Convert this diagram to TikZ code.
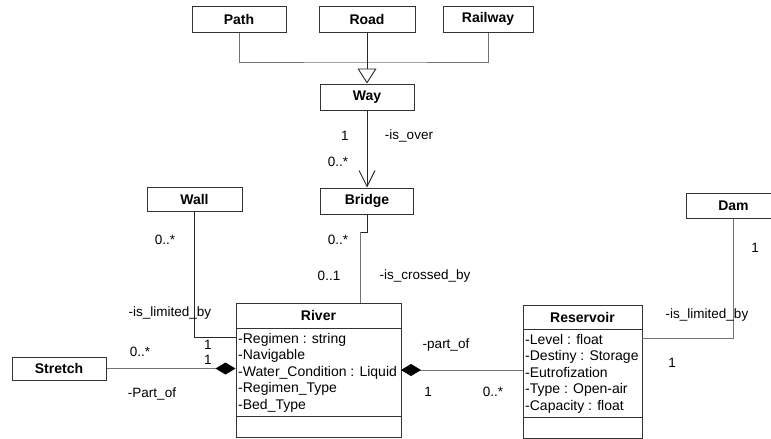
\documentclass[tikz,border=0pt]{standalone}
\usepackage{fontspec}
\setmainfont{Liberation Sans}
\usetikzlibrary{arrows.meta}
\begin{document}
\begin{tikzpicture}[x=1pt,y=-1pt,
  txt/.style={font=\fontsize{13.5}{16.5}\selectfont, inner sep=0pt},
  classbox/.style={draw=black!80, line width=1pt, rectangle, inner sep=0pt, minimum height=26pt},
  title/.style={font=\fontsize{14}{16.5}\selectfont\bfseries},
  attrs/.style={font=\fontsize{14}{16.5}\selectfont, align=left, anchor=north west, inner sep=0pt},
  link/.style={line width=0.9pt, draw=black!85},
  glink/.style={line width=0.9pt, draw=black!55},
  compend/.style={-{Diamond[length=20pt,width=12pt,fill=black,black]}},
  compstart/.style={{Diamond[length=20pt,width=12pt,fill=black,black]}-},
]
\useasboundingbox (0,0) rectangle (771,439);
\clip (0,0) rectangle (771,439);

% plain classes
\node[classbox, title, minimum width=94pt] (path) at (239,19) {Path};
\node[classbox, title, minimum width=96pt] (road) at (367,19) {Road};
\node[classbox, title, minimum width=90pt] (railway) at (488,19) {Railway};
\node[classbox, title, minimum width=94pt] (way) at (367,97) {Way};
\node[classbox, title, minimum width=93pt] (bridge) at (367,201) {Bridge};
\node[classbox, title, minimum width=95pt, minimum height=24pt] (wall) at (194.5,199) {Wall};
\node[classbox, title, minimum width=95pt, minimum height=25pt] (dam) at (733.5,205.5) {Dam};
\node[classbox, title, minimum width=94pt, minimum height=23pt] (stretch) at (59,368.5) {Stretch};

% River class
\node[classbox, minimum width=165pt, minimum height=134pt] (river) at (318.5,370) {};
\node[title, inner sep=0pt] (rivertitle) at (318.5,315.5) {River};
\draw[black!80, line width=1pt] (river.west |- 0,328) -- (river.east |- 0,328);
\draw[black!80, line width=1pt] (river.west |- 0,416) -- (river.east |- 0,416);
\node[attrs] (riverattrs) at (238,333) {-Regimen : string\\-Navigable\\-Water\_Condition : Liquid\\-Regimen\_Type\\-Bed\_Type};

% Reservoir class
\node[classbox, minimum width=119pt, minimum height=133pt] (reservoir) at (582.5,371.5) {};
\node[title, inner sep=0pt] (restitle) at (582.5,317) {Reservoir};
\draw[black!80, line width=1pt] (reservoir.west |- 0,329) -- (reservoir.east |- 0,329);
\draw[black!80, line width=1pt] (reservoir.west |- 0,417) -- (reservoir.east |- 0,417);
\node[attrs] (resattrs) at (525,334) {-Level : float\\-Destiny : Storage\\-Eutrofization\\-Type : Open-air\\-Capacity : float};

% generalization
\coordinate (gj) at (367,62);
\draw[glink] (path.south) |- (gj) -| (railway.south);
\draw[link, -{Triangle[open, length=15pt, width=19pt]}] (road.south) -- (way.north);

% way -> bridge
\draw[link, -{Straight Barb[length=16pt, width=16pt]}] (way.south) -- (bridge.north);
\node[txt] (l1) at (345,136) {1};
\node[txt] (l2) at (409,136) {-is\_over};
\node[txt] (l3) at (338,162) {0..*};

% bridge -- river
\coordinate (bj1) at (367,232);
\coordinate (bj2) at (360,232);
\coordinate (bj3) at (360,303);
\draw[link] (bridge.south) -- (bj1) -- (bj2);
\draw[glink] (bj2) -- (bj3);
\node[txt] (l4) at (338,240) {0..*};
\node[txt] (l5) at (329,276) {0..1};
\node[txt] (l6) at (425,276) {-is\_crossed\_by};

% wall -- river
\coordinate (wj) at (236,337);
\draw[link] (wall.south) |- (wj);
\node[txt] (l7) at (165,240) {0..*};
\node[txt] (l8) at (170,313) {-is\_limited\_by};
\node[txt] (l9) at (140,352) {0..*};
\node[txt] (l10) at (208,345) {1};
\node[txt] (l11) at (208,360) {1};

% stretch -- river
\draw[glink, compend] (stretch.east) -- (stretch.east -| river.west);
\node[txt] (l12) at (152,394) {-Part\_of};

% river -- reservoir
\coordinate (rr1) at (401,370);
\coordinate (rr2) at (523,370);
\draw[glink, compstart] (rr1) -- (rr2);
\node[txt] (l13) at (446,345) {-part\_of};
\node[txt] (l14) at (428,392) {1};
\node[txt] (l15) at (493,392) {0..*};

% dam -- reservoir
\coordinate (dj) at (642,338);
\draw[glink] (dam.south) |- (dj);
\node[txt] (l16) at (755,248) {1};
\node[txt] (l17) at (707,315) {-is\_limited\_by};
\node[txt] (l18) at (672,363) {1};
\end{tikzpicture}
\end{document}
